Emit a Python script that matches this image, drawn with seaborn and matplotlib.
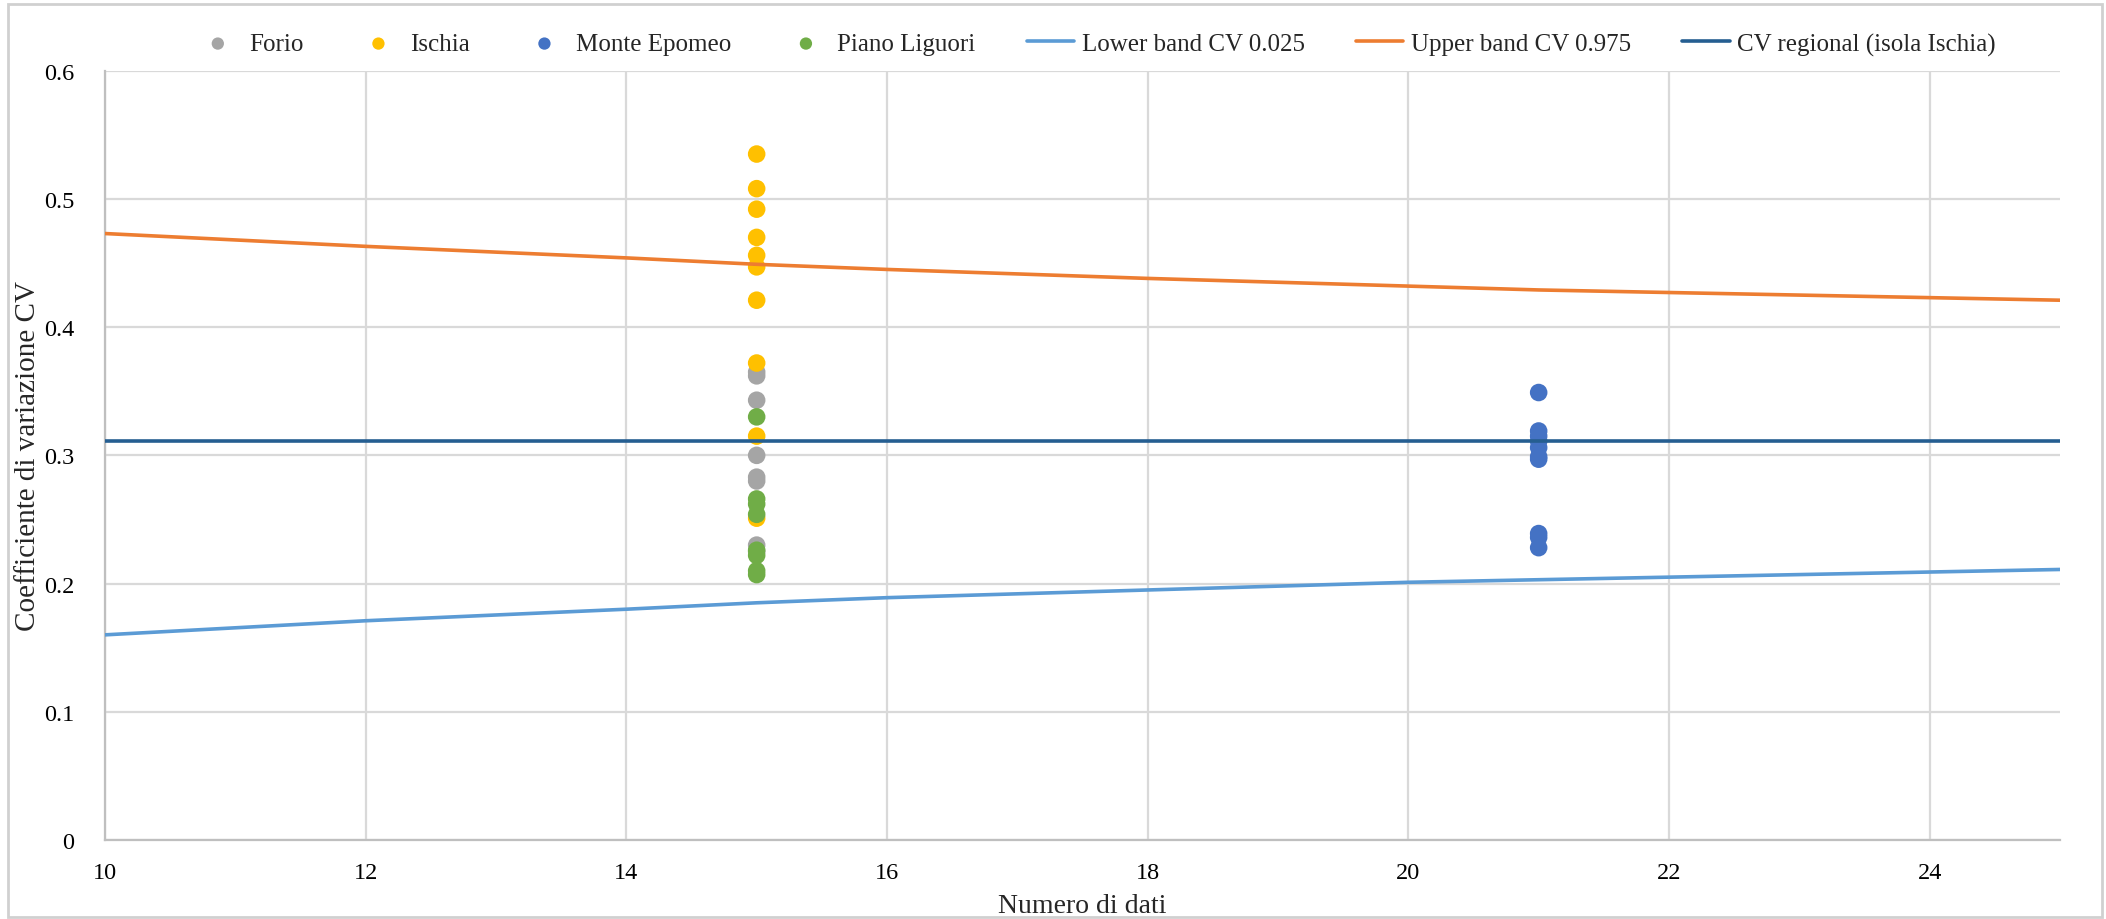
import matplotlib
matplotlib.use("Agg")
import matplotlib.pyplot as plt
import seaborn as sns
import pandas as pd
from matplotlib.patches import Rectangle

# ---- data ----
forio_n = [15] * 8
forio_cv = [0.365, 0.362, 0.343, 0.300, 0.283, 0.280, 0.230, 0.225]
ischia_n = [15] * 10
ischia_cv = [0.535, 0.508, 0.492, 0.470, 0.456, 0.447, 0.421, 0.372, 0.315, 0.251]
epomeo_n = [21] * 10
epomeo_cv = [0.349, 0.319, 0.315, 0.311, 0.306, 0.299, 0.297, 0.239, 0.236, 0.228]
liguori_n = [15] * 8
liguori_cv = [0.330, 0.266, 0.262, 0.254, 0.226, 0.222, 0.210, 0.207]

band_n = [10, 12, 14, 15, 16, 18, 20, 21, 22, 24, 25]
lower_cv = [0.160, 0.171, 0.180, 0.185, 0.189, 0.195, 0.201, 0.203, 0.205, 0.209, 0.211]
upper_cv = [0.473, 0.463, 0.454, 0.449, 0.445, 0.438, 0.432, 0.429, 0.427, 0.423, 0.421]
regional_n = [10, 25]
regional_cv = [0.311, 0.311]

x_ticks = [10, 12, 14, 16, 18, 20, 22, 24]
y_ticks = [0, 0.1, 0.2, 0.3, 0.4, 0.5, 0.6]
y_tick_labels = ["0", "0.1", "0.2", "0.3", "0.4", "0.5", "0.6"]

# ---- style ----
sns.set_theme(style="white")
plt.rcParams['font.family'] = ['Liberation Serif', 'DejaVu Serif']

fig = plt.figure(figsize=(21.06, 9.2), dpi=100)
ax = fig.add_axes([105 / 2106, 1 - 841 / 920, (2060 - 105) / 2106, (841 - 71.7) / 920])

grid_c = "#D9D9D9"
ax.set_axisbelow(True)
ax.grid(True, color=grid_c, linewidth=1.6)

stations = [
    ("Forio", forio_n, forio_cv, "#A5A5A5"),
    ("Ischia", ischia_n, ischia_cv, "#FFC000"),
    ("Monte Epomeo", epomeo_n, epomeo_cv, "#4472C4"),
    ("Piano Liguori", liguori_n, liguori_cv, "#70AD47"),
]
for name, xs, ys, col in stations:
    sns.scatterplot(x=xs, y=ys, ax=ax, color=col, s=160, edgecolor="none",
                    label=name, zorder=3)

lines = [
    ("Lower band CV 0.025", band_n, lower_cv, "#5B9BD5"),
    ("Upper band CV 0.975", band_n, upper_cv, "#ED7D31"),
    ("CV regional (isola Ischia)", regional_n, regional_cv, "#255E91"),
]
for name, xs, ys, col in lines:
    sns.lineplot(x=xs, y=ys, ax=ax, color=col, linewidth=2.6, label=name, zorder=4)

ax.set_xlim(10, 25)
ax.set_ylim(0, 0.6)
ax.set_xticks(x_ticks)
ax.set_yticks(y_ticks)
ax.set_yticklabels(y_tick_labels)
ax.tick_params(axis="both", length=0, labelsize=17.5, colors="#000000")
ax.tick_params(axis="y", pad=22)
ax.tick_params(axis="x", pad=16)

for s in ["top", "right"]:
    ax.spines[s].set_visible(False)
for s in ["left", "bottom"]:
    ax.spines[s].set_color("#BFBFBF")
    ax.spines[s].set_linewidth(1.6)

ax.set_xlabel("Numero di dati", fontsize=20, labelpad=7)
ax.set_ylabel("Coefficiente di variazione CV", fontsize=21, labelpad=2)

handles, labels = ax.get_legend_handles_labels()
if ax.legend_:
    ax.legend_.remove()
fig.legend(handles, labels, loc="center", bbox_to_anchor=(1095 / 2106, 1 - 45 / 920),
           ncol=7, frameon=False, fontsize=18, markerscale=0.7, handlelength=1.9,
           handletextpad=0.3, columnspacing=2.05)

fig.patches.append(Rectangle((8 / 2106, 0.002), 1 - 12 / 2106, 1 - 7 / 920,
                             transform=fig.transFigure, fill=False,
                             edgecolor="#D0D0D0", linewidth=2))

fig.savefig("out.png", dpi=100)
